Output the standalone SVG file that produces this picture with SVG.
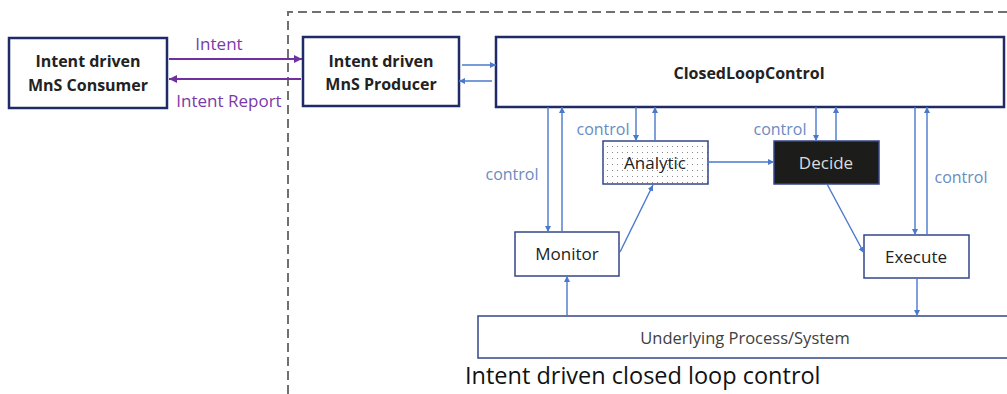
<svg xmlns="http://www.w3.org/2000/svg" width="1007" height="394" viewBox="0 0 1007 394">
<style>
.main{fill:#fff;stroke:#1f2b66;stroke-width:2.5}
.box{fill:#fff;stroke:#34458a;stroke-width:1.5}
.lbl{font-family:"Open Sans","Liberation Sans",Arial,sans-serif;font-size:17px;fill:#222;text-anchor:middle;dominant-baseline:central}
.b{font-weight:bold;font-size:16px}
.ctl{font-family:"Open Sans","Liberation Sans",Arial,sans-serif;font-size:16px;fill:#6a8bc2;text-anchor:middle;dominant-baseline:central}
.pl{font-family:"Open Sans","Liberation Sans",Arial,sans-serif;font-size:17px;fill:#7a3aa8;text-anchor:middle;dominant-baseline:central}
.bl{stroke:#4a78cc;stroke-width:1.4;fill:none;marker-end:url(#ab)}
.pu{stroke:#7030a0;stroke-width:2;fill:none;marker-end:url(#ap)}
</style>
<defs>
<marker id="ab" viewBox="0 0 10 10" refX="10" refY="5" markerWidth="6" markerHeight="6" markerUnits="userSpaceOnUse" orient="auto"><path d="M0,0 L10,5 L0,10 z" fill="#4a78cc"/></marker>
<marker id="ap" viewBox="0 0 10 10" refX="10" refY="5" markerWidth="8" markerHeight="8" markerUnits="userSpaceOnUse" orient="auto"><path d="M0,0 L10,5 L0,10 z" fill="#7030a0"/></marker>
<pattern id="dots" x="0" y="0" width="5" height="6" patternUnits="userSpaceOnUse"><rect width="5" height="6" fill="#fff"/><rect x="2" y="2" width="1" height="1" fill="#888"/></pattern>
</defs>
<g id="boundary">
<path d="M288,394 L288,12 L1010,12" fill="none" stroke="#707070" stroke-width="2" stroke-dasharray="9,5"/>
<text x="465" y="384" font-family="Open Sans,Liberation Sans,Arial,sans-serif" font-size="23.5" fill="#111">Intent driven closed loop control</text>
</g>
<g id="consumer">
<rect class="main" x="9" y="38" width="158" height="70"/>
<text class="lbl b" x="88" y="61">Intent driven</text>
<text class="lbl b" x="88" y="85">MnS Consumer</text>
</g>
<g id="producer">
<rect class="main" x="303" y="37" width="156" height="69"/>
<text class="lbl b" x="381" y="61">Intent driven</text>
<text class="lbl b" x="381" y="84">MnS Producer</text>
</g>
<g id="closedloopcontrol">
<rect class="main" x="496" y="37" width="508" height="70"/>
<text class="lbl b" x="749" y="73">ClosedLoopControl</text>
</g>
<g id="analytic">
<rect class="box" x="603" y="141" width="105" height="43" style="fill:url(#dots)"/>
<text class="lbl" x="655" y="162">Analytic</text>
</g>
<g id="decide">
<rect class="box" x="774" y="141" width="105" height="43" style="fill:#1c1c1a"/>
<text class="lbl" x="826" y="162" style="fill:#dcdcdc">Decide</text>
</g>
<g id="monitor">
<rect class="box" x="515" y="232" width="104" height="44"/>
<text class="lbl" x="567" y="253">Monitor</text>
</g>
<g id="execute">
<rect class="box" x="864" y="235" width="105" height="43"/>
<text class="lbl" x="916" y="256">Execute</text>
</g>
<g id="underlying">
<rect class="box" x="478" y="316" width="540" height="42"/>
<text class="lbl" x="745" y="337" style="font-size:16.5px;fill:#404040">Underlying Process/System</text>
</g>
<g id="connectors">
<line class="pu" x1="169" y1="59" x2="302" y2="59"/>
<line class="pu" x1="301" y1="79" x2="169" y2="79"/>
<text class="pl" x="219" y="43">Intent</text>
<text class="pl" x="229" y="100">Intent Report</text>
<line class="bl" x1="462" y1="65" x2="496" y2="65"/>
<line class="bl" x1="492" y1="81" x2="459" y2="81"/>
<line class="bl" x1="548" y1="107" x2="548" y2="232"/>
<line class="bl" x1="562" y1="232" x2="562" y2="107"/>
<line class="bl" x1="636" y1="107" x2="636" y2="141"/>
<line class="bl" x1="655" y1="141" x2="655" y2="107"/>
<line class="bl" x1="816" y1="107" x2="816" y2="141"/>
<line class="bl" x1="836" y1="141" x2="836" y2="107"/>
<line class="bl" x1="915" y1="107" x2="915" y2="235"/>
<line class="bl" x1="927" y1="235" x2="927" y2="107"/>
<line class="bl" x1="708" y1="162" x2="774" y2="162"/>
<line class="bl" x1="620" y1="252" x2="653" y2="185"/>
<line class="bl" x1="827" y1="184" x2="864" y2="253"/>
<line class="bl" x1="567" y1="316" x2="567" y2="276"/>
<line class="bl" x1="917" y1="278" x2="917" y2="316"/>
<text class="ctl" x="603" y="129">control</text>
<text class="ctl" x="780" y="129">control</text>
<text class="ctl" x="512" y="174">control</text>
<text class="ctl" x="961" y="177">control</text>
</g>
</svg>
